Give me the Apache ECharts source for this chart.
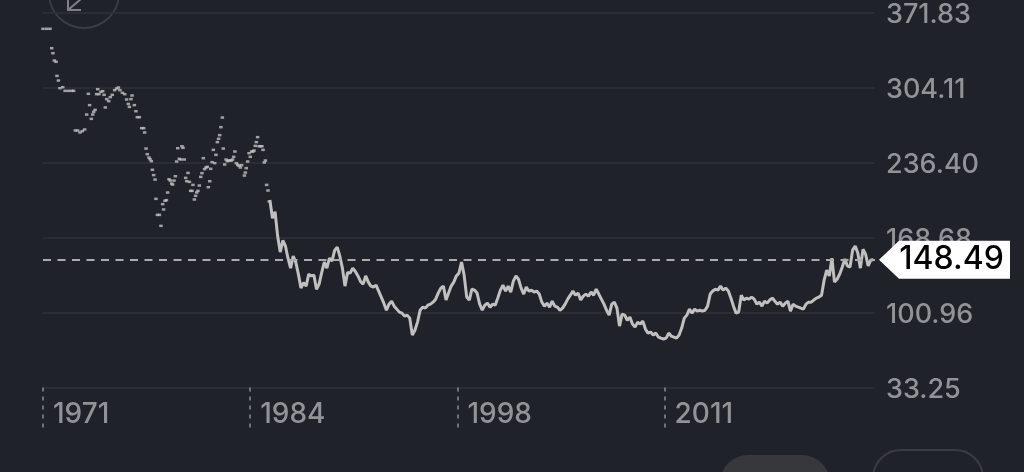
<!DOCTYPE html>
<html>
<head>
<meta charset="utf-8">
<style>
  html, body { margin: 0; padding: 0; background: #1f2229; }
  #main { width: 1024px; height: 472px; }
</style>
<script src="https://cdn.jsdelivr.net/npm/echarts@6/dist/echarts.min.js"></script>
</head>
<body>
<div id="main"></div>
<script>
  const xTickValues = [1971, 1984.33, 1997.67, 2011];
  const xTickLabels = ['1971', '1984', '1998', '2011'];
  const yTickValues = [33.25, 100.96, 168.68, 236.40, 304.11, 371.83];
  const yTickLabels = ['33.25', '100.96', '168.68', '236.40', '304.11', '371.83'];
  const lastPrice = 148.49;

  // sparse early years, drawn as separate dots
  const earlyYears = [1971.0, 1971.24, 1971.45, 1971.56, 1971.64, 1971.73, 1971.84, 1971.9, 1971.99, 1972.09,
    1972.27, 1972.42, 1972.63, 1972.84, 1972.97, 1973.08, 1973.23, 1973.38, 1973.53, 1973.68,
    1973.81, 1973.92, 1974.0, 1974.11, 1974.2, 1974.26, 1974.35, 1974.45, 1974.52, 1974.6,
    1974.73, 1974.84, 1974.93, 1975.01, 1975.1, 1975.23, 1975.33, 1975.46, 1975.61, 1975.74,
    1975.85, 1975.95, 1976.11, 1976.26, 1976.38, 1976.49, 1976.56, 1976.66, 1976.73, 1976.88,
    1976.98, 1977.07, 1977.2, 1977.35, 1977.48, 1977.54, 1977.63, 1977.71, 1977.82, 1977.89,
    1977.97, 1978.04, 1978.12, 1978.21, 1978.27, 1978.36, 1978.49, 1978.59, 1978.7, 1978.76,
    1978.85, 1978.94, 1979.02, 1979.11, 1979.19, 1979.28, 1979.34, 1979.43, 1979.52, 1979.6,
    1979.67, 1979.77, 1979.88, 1979.94, 1980.01, 1980.09, 1980.18, 1980.25, 1980.33, 1980.42,
    1980.5, 1980.59, 1980.65, 1980.74, 1980.82, 1980.89, 1980.97, 1981.06, 1981.15, 1981.23,
    1981.32, 1981.4, 1981.49, 1981.57, 1981.64, 1981.73, 1981.79, 1981.88, 1981.96, 1982.05,
    1982.13, 1982.22, 1982.3, 1982.37, 1982.45, 1982.54, 1982.6, 1982.69, 1982.78, 1982.86,
    1982.95, 1983.03, 1983.12, 1983.2, 1983.27, 1983.35, 1983.44, 1983.53, 1983.61, 1983.7,
    1983.78, 1983.96, 1984.02, 1984.08, 1984.17, 1984.26, 1984.34, 1984.43, 1984.51, 1984.58,
    1984.66, 1984.73, 1984.81, 1984.9, 1985.0, 1985.09, 1985.16, 1985.24, 1985.31, 1985.39,
    1985.48, 1985.56];
  const earlyValues = [357.1, 357.1, 357.1, 339.6, 335.1, 328.5, 327.3, 314.6, 310.4, 303.5,
    304.4, 301.1, 301.1, 301.1, 301.1, 265.3, 265.3, 263.5, 264.7, 266.2,
    279.7, 298.4, 288.2, 275.8, 279.7, 282.1, 283.9, 298.1, 302.6, 298.1,
    300.2, 300.8, 297.5, 286.1, 293.6, 291.8, 295.4, 297.5, 301.7, 303.2,
    304.1, 301.7, 299.3, 298.1, 293.3, 289.3, 286.6, 293.6, 296.9, 288.2,
    282.7, 277.3, 277.3, 267.4, 267.4, 263.5, 249.0, 243.9, 240.9, 239.4,
    237.6, 229.8, 225.0, 221.0, 203.6, 189.1, 189.1, 179.2, 198.8, 194.0,
    201.8, 202.4, 209.3, 221.3, 220.1, 217.4, 216.5, 220.1, 224.0, 237.3,
    249.3, 239.7, 239.1, 251.1, 249.6, 239.1, 222.5, 219.5, 227.0, 218.9,
    210.8, 210.8, 216.2, 203.0, 206.3, 209.3, 210.8, 215.6, 223.4, 226.8,
    240.3, 230.4, 231.9, 232.5, 214.1, 219.5, 230.7, 236.7, 247.8, 235.8,
    243.3, 254.8, 257.8, 261.1, 268.3, 277.0, 249.0, 234.6, 239.1, 237.6,
    238.2, 238.2, 238.2, 239.1, 241.5, 246.3, 235.8, 234.3, 233.4, 231.9,
    234.0, 224.6, 227.3, 231.3, 237.3, 244.8, 241.5, 246.3, 246.3, 247.2,
    251.4, 254.8, 259.3, 251.1, 251.1, 251.1, 247.8, 236.4, 238.2, 216.2,
    211.1, 201.2];

  // continuous part, one reading every two months from lineStartYear
  const lineStartYear = 1985.6;
  const lineValues = [202.5, 186, 192, 170, 155.5, 166, 161, 150, 141, 152,
    146.5, 135.6, 123, 128, 124.8, 135.6, 134, 134.7, 122, 126.6,
    137, 146.5, 141, 150, 147.4, 157, 160, 152, 141, 124.8,
    137, 136.5, 141, 138, 134, 129, 126.6, 134, 128.4, 124.8,
    124, 125.7, 120.3, 114.9, 109.4, 103, 108.5, 111.2, 106.7, 104,
    101.3, 100.4, 97.7, 98.6, 95.9, 80.6, 85, 92.3, 103, 105.8,
    104.9, 107.6, 108.5, 110.3, 113, 118.5, 123, 124.8, 112.2, 118.5,
    124.8, 128.4, 134, 136.5, 146.5, 134.7, 114.9, 112.2, 122, 121.2,
    118.5, 108.5, 103.1, 107.6, 109.4, 105.8, 108.5, 107.6, 114, 121.2,
    125.7, 120.3, 124.8, 119.4, 129.3, 134, 131, 123, 117.6, 124,
    120.3, 121, 119.4, 120.3, 117.6, 110.3, 106.7, 109.4, 105.8, 111.2,
    106.7, 105.8, 103, 104.9, 108.5, 113, 116.6, 120.3, 116.6, 118.5,
    112.2, 115.8, 117.6, 115.8, 119.4, 116.6, 122, 117.6, 113, 108.5,
    103, 98.6, 108.5, 110.3, 104.9, 88.7, 99.5, 98.6, 94, 96.8,
    90.5, 87.8, 92.3, 90.5, 93.2, 86, 82.4, 83.3, 80.6, 82.4,
    78.8, 77.8, 77, 77.8, 82.4, 79.6, 78.8, 77.8, 80.6, 86.9,
    95.9, 98.6, 104, 100.4, 104, 102.2, 103, 102.2, 103, 106.7,
    117.6, 120.3, 122, 121.2, 124.8, 121.2, 123, 120.3, 114, 106.7,
    100.4, 101.3, 116.6, 112.2, 114, 113, 114.9, 113, 108.5, 110.3,
    106.7, 111.2, 109.4, 112.2, 114, 111.2, 108.5, 110.3, 106.7, 109.4,
    111.2, 102.2, 108.5, 106.7, 105.8, 104.9, 104, 108.5, 110.3, 110.3,
    112.2, 114, 114.9, 116.6, 130.2, 139.3, 134, 150, 128.4, 131,
    135.6, 142, 149.2, 143, 142, 157.3, 160.9, 154.6, 141, 158,
    153.7, 143, 148.3, 148.49];

  const textColor = '#929396';
  const gridColor = '#2a2d34';
  const lineColor = '#c0c0c0';

  const chart = echarts.init(document.getElementById('main'));
  chart.setOption({
    backgroundColor: '#1f2229',
    animation: false,
    grid: { left: 43, right: 149, top: 12.5, bottom: 84.5 },
    xAxis: {
      type: 'value',
      min: 1971,
      max: 2024.54,
      splitLine: { show: false },
      axisLine: { show: false },
      axisTick: {
        show: true,
        length: 40,
        customValues: xTickValues,
        lineStyle: { color: '#8e8f92', width: 1.5, type: [4, 5] }
      },
      axisLabel: {
        customValues: xTickValues,
        formatter: function (v) {
          return xTickLabels[xTickValues.indexOf(v)];
        },
        align: 'left',
        padding: [0, 0, 0, 10],
        margin: 13,
        color: textColor,
        fontFamily: 'Inter',
        fontWeight: 500,
        fontSize: 28
      }
    },
    yAxis: {
      type: 'value',
      position: 'right',
      min: 33.25,
      max: 371.83,
      axisLine: { show: false },
      axisTick: { show: false, customValues: yTickValues },
      splitLine: { show: true, lineStyle: { color: gridColor, width: 2 } },
      axisLabel: {
        customValues: yTickValues,
        formatter: function (v) {
          return yTickLabels[yTickValues.indexOf(v)];
        },
        margin: 11,
        verticalAlign: 'top',
        lineHeight: 4,
        color: textColor,
        fontFamily: 'Inter',
        fontWeight: 500,
        fontSize: 27
      }
    },
    series: [
      {
        type: 'scatter',
        symbol: 'rect',
        symbolSize: [3.5, 2.5],
        itemStyle: { color: lineColor },
        data: earlyYears.map((y, i) => [y, earlyValues[i]])
      },
      {
        type: 'line',
        showSymbol: false,
        lineStyle: { color: lineColor, width: 3 },
        data: lineValues.map((v, i) => [lineStartYear + i / 6, v]),
        markLine: {
          silent: true,
          symbol: 'none',
          label: { show: false },
          lineStyle: { color: '#ababab', width: 2, type: [8, 6.5] },
          data: [{ yAxis: lastPrice }]
        },
        markPoint: {
          silent: true,
          symbol: 'path://M0 19 L20 0 L131 0 L131 38 L20 38 Z',
          symbolKeepAspect: false,
          symbolSize: [131, 38],
          symbolOffset: [69.5, 0],
          itemStyle: { color: '#ffffff' },
          label: {
            show: true,
            position: 'inside',
            offset: [7, 0],
            color: '#000000',
            fontFamily: 'Inter',
            fontWeight: 500,
            fontSize: 32,
            formatter: lastPrice.toFixed(2)
          },
          data: [{ coord: [2024.54, lastPrice] }]
        }
      }
    ],
    graphic: [
      { type: 'circle', shape: { cx: 84, cy: -7, r: 35 }, style: { fill: 'transparent', stroke: '#3a3c42', lineWidth: 2 } },
      { type: 'polyline', shape: { points: [[81, -1], [68, 10]] }, style: { stroke: '#7f8083', lineWidth: 2, fill: 'none' } },
      { type: 'polyline', shape: { points: [[68, -1], [68, 10], [81, 10]] }, style: { stroke: '#7f8083', lineWidth: 2, fill: 'none' } },
      { type: 'rect', shape: { x: 720, y: 455, width: 110, height: 60, r: 28 }, style: { fill: '#37383c' } },
      { type: 'rect', shape: { x: 873, y: 450, width: 110, height: 60, r: 28 }, style: { fill: 'transparent', stroke: '#3a3c42', lineWidth: 2 } }
    ]
  });
</script>
</body>
</html>
